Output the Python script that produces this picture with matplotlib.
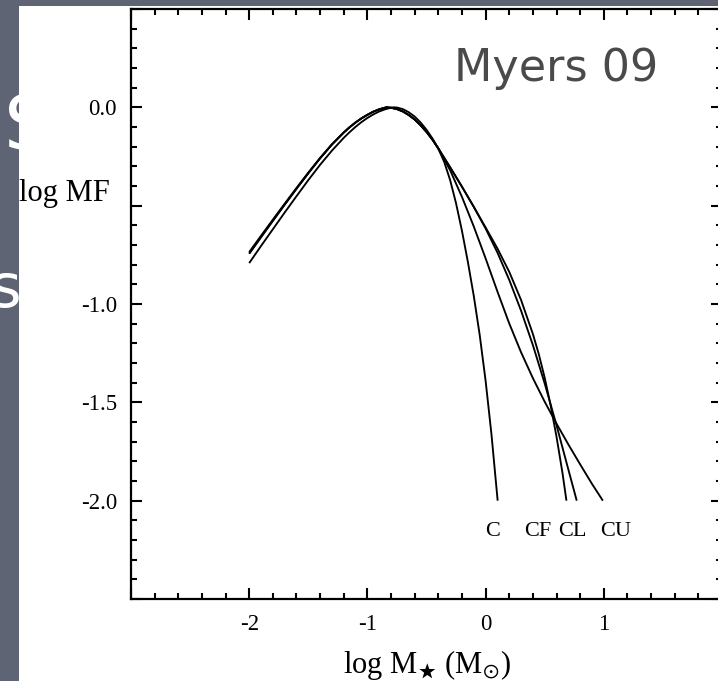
import matplotlib
matplotlib.use("Agg")
import matplotlib.pyplot as plt
from matplotlib.patches import Rectangle
from matplotlib.ticker import MultipleLocator

plt.rcParams["mathtext.fontset"] = "stix"
SERIF = ["Liberation Serif", "DejaVu Serif"]

# log mass function curves (log M in solar masses vs log MF)
c_x = [-2.0, -1.9, -1.8, -1.7, -1.6, -1.5, -1.4, -1.3, -1.2, -1.15, -1.1,
       -1.05, -1.0, -0.95, -0.9, -0.85, -0.8, -0.78, -0.75, -0.7, -0.65,
       -0.6, -0.55, -0.5, -0.45, -0.4, -0.35, -0.3, -0.25, -0.2, -0.15,
       -0.1, -0.05, 0.0, 0.05, 0.102]
c_y = [-0.792, -0.705, -0.620, -0.535, -0.452, -0.370, -0.292, -0.220,
       -0.155, -0.126, -0.099, -0.075, -0.054, -0.036, -0.021, -0.010,
       -0.002, 0.0, -0.001, -0.009, -0.025, -0.047, -0.077, -0.114, -0.158,
       -0.210, -0.278, -0.370, -0.488, -0.628, -0.786, -0.959, -1.157,
       -1.390, -1.665, -2.0]

# shared rising branch of the CF / CL / CU models
head_x = [-2.0, -1.9, -1.8, -1.7, -1.6, -1.5, -1.4, -1.3, -1.2, -1.15, -1.1,
          -1.05, -1.0, -0.95, -0.9, -0.84, -0.8, -0.75, -0.7, -0.65, -0.6,
          -0.55, -0.5, -0.45, -0.4]
head_y = [-0.744, -0.660, -0.577, -0.495, -0.414, -0.335, -0.259, -0.189,
          -0.128, -0.101, -0.077, -0.056, -0.038, -0.022, -0.010, 0.0,
          -0.002, -0.009, -0.021, -0.039, -0.062, -0.091, -0.125, -0.164,
          -0.209]
cu_head_y = [-0.736, -0.653, -0.571, -0.490, -0.410, -0.332, -0.257, -0.188,
             -0.128, -0.101, -0.077, -0.056, -0.038, -0.022, -0.010, 0.0,
             -0.002, -0.009, -0.021, -0.039, -0.062, -0.091, -0.125, -0.164,
             -0.209]

cf_x = head_x + [-0.3, -0.2, -0.1, 0.0, 0.1, 0.2, 0.3, 0.4, 0.45, 0.5,
                 0.55, 0.6, 0.65, 0.684]
cf_y = head_y + [-0.305, -0.4035, -0.506, -0.611, -0.7175, -0.8365, -0.9795,
                 -1.1525, -1.255, -1.375, -1.515, -1.675, -1.8575, -2.0]
cl_x = head_x + [-0.3, -0.2, -0.1, 0.0, 0.1, 0.2, 0.3, 0.4, 0.5, 0.6, 0.7,
                 0.771]
cl_y = head_y + [-0.305, -0.4035, -0.506, -0.616, -0.7385, -0.8775, -1.034,
                 -1.209, -1.404, -1.6165, -1.8415, -2.0]
cu_x = head_x + [-0.3, -0.2, -0.1, 0.0, 0.1, 0.2, 0.3, 0.4, 0.5, 0.6, 0.7,
                 0.8, 0.9, 0.992]
cu_y = cu_head_y + [-0.320, -0.4555, -0.606, -0.768, -0.9365, -1.099,
                    -1.2455, -1.377, -1.497, -1.6085, -1.714, -1.8155,
                    -1.9145, -2.0]

curve_names = ["C", "CF", "CL", "CU"]
label_x = [0.06, 0.44, 0.737, 1.10]
label_y = -2.157

x_major = [-3, -2, -1, 0, 1, 2]
x_labels = ["", "-2", "-1", "0", "1", ""]
y_major = [-2.5, -2.0, -1.5, -1.0, -0.5, 0.0, 0.5]
y_labels = ["", "-2.0", "-1.5", "-1.0", "", "0.0", ""]

fig = plt.figure(figsize=(7.18, 6.81), dpi=100)
fig.patch.set_facecolor("#5e6473")

# slide lettering behind the white panel
fig.text(28 / 718, 1 - 128 / 681, "S", color="white", fontsize=54,
         family="DejaVu Sans", ha="center", va="center", zorder=0.2)
fig.text(6 / 718, 1 - 290 / 681, "s", color="white", fontsize=44,
         family="DejaVu Sans", ha="center", va="center", zorder=0.2)

panel = Rectangle((19 / 718, 0), 1 - 19 / 718, 1 - 6 / 681,
                  transform=fig.transFigure, facecolor="white",
                  edgecolor="none", zorder=0.5)
fig.patches.append(panel)

ax = fig.add_axes([131 / 718, 1 - 599 / 681, 591 / 718, 590 / 681])
ax.set_zorder(1)
ax.set_facecolor("white")

for xs, ys in [(c_x, c_y), (cf_x, cf_y), (cl_x, cl_y), (cu_x, cu_y)]:
    ax.plot(xs, ys, color="black", lw=1.35, solid_capstyle="butt",
            solid_joinstyle="round")

for name, lx in zip(curve_names, label_x):
    ax.text(lx, label_y, name, ha="center", va="center", fontsize=16,
            family=SERIF, color="black")

ax.set_xlim(-3, 2)
ax.set_ylim(-2.5, 0.5)
ax.set_xticks(x_major)
ax.set_xticklabels(x_labels)
ax.set_yticks(y_major)
ax.set_yticklabels(y_labels)
ax.xaxis.set_minor_locator(MultipleLocator(0.2))
ax.yaxis.set_minor_locator(MultipleLocator(0.1))
ax.tick_params(which="both", direction="in", top=True, right=True,
               width=1.5, color="black")
ax.tick_params(which="major", length=8)
ax.tick_params(which="minor", length=4.5)
ax.tick_params(axis="x", which="major", pad=11)
ax.tick_params(axis="y", which="major", pad=10)
for lab in ax.get_xticklabels() + ax.get_yticklabels():
    lab.set_fontfamily(SERIF)
    lab.set_fontsize(16.5)
for sp in ax.spines.values():
    sp.set_linewidth(1.6)

ax.text(-3.18, -0.44, "log MF", ha="right", va="center", fontsize=22,
        family=SERIF, clip_on=False)
ax.text(0.5, -0.112, r"log M$_{\bigstar}$ (M$_{\odot}$)",
        transform=ax.transAxes, ha="center", va="center", fontsize=22,
        family=SERIF)

ax.text(0.60, 0.198, "Myers 09", ha="center", va="center", fontsize=32,
        family="DejaVu Sans", color="#4a4a4a")

fig.savefig("out.png", dpi=100, facecolor=fig.get_facecolor())
